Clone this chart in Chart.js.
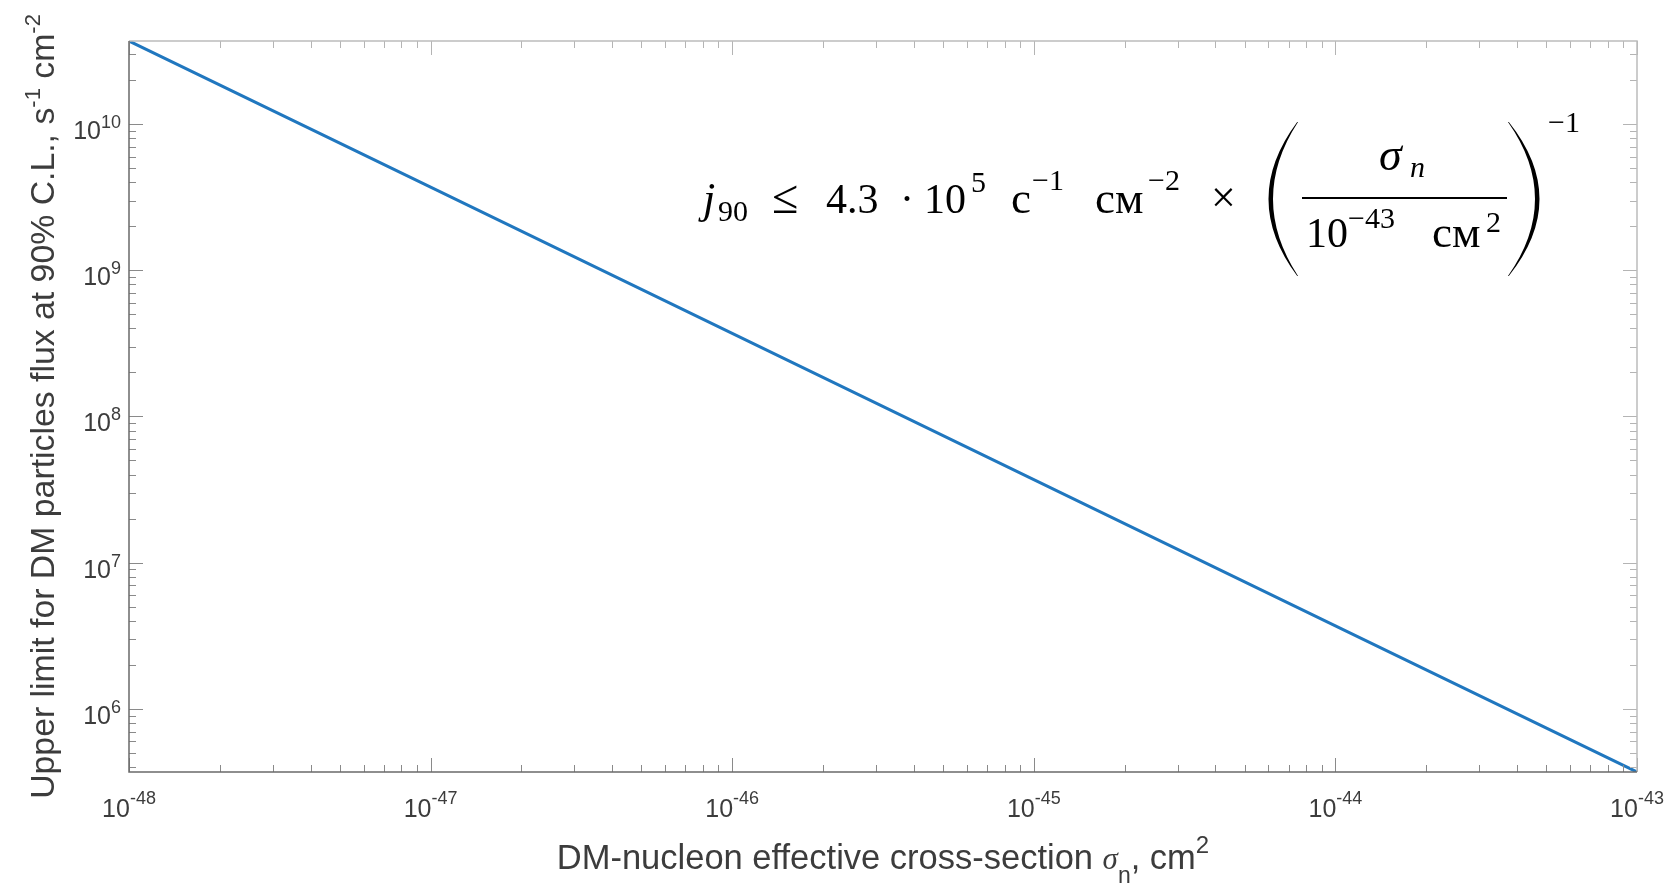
<!DOCTYPE html>
<html>
<head>
<meta charset="utf-8">
<script src="https://cdn.jsdelivr.net/npm/chart.js@4.4.1/dist/chart.umd.min.js"></script>
<style>
  html, body { margin: 0; padding: 0; background: #ffffff; }
  canvas { display: block; }
</style>
</head>
<body>
<canvas id="chart" width="1675" height="885"></canvas>
<script>
// DM-nucleon effective cross-section, cm^2 (one point per decade)
const crossSections = [1e-48, 1e-47, 1e-46, 1e-45, 1e-44, 1e-43];
// Upper limit for DM particles flux at 90% C.L., s^-1 cm^-2
const fluxLimits = [3.7e10, 3.7e9, 3.7e8, 3.7e7, 3.7e6, 3.7e5];
// Decade exponents that carry a tick label
const xTickExponents = [-48, -47, -46, -45, -44, -43];
const yTickExponents = [6, 7, 8, 9, 10];

const SANS = "'Liberation Sans', Arial, Helvetica, sans-serif";
const SERIF = "'Liberation Serif', 'Times New Roman', serif";
const LABEL_COLOR = '#3c3c3c';

// Draws "base" followed by a raised exponent; returns the total width
function powerWidth(ctx, base, exp, size, supSize) {
  ctx.font = size + 'px ' + SANS;
  const w1 = ctx.measureText(base).width;
  ctx.font = supSize + 'px ' + SANS;
  return w1 + ctx.measureText(exp).width;
}
function drawPower(ctx, base, exp, x, y, size, supSize, raise) {
  ctx.font = size + 'px ' + SANS;
  ctx.fillText(base, x, y);
  const w1 = ctx.measureText(base).width;
  ctx.font = supSize + 'px ' + SANS;
  ctx.fillText(exp, x + w1, y - raise);
}

// Draws a run of [text, size, dy, italic, family] pieces left to right
function drawRun(ctx, pieces, x, y, measureOnly) {
  let cx = x;
  for (const p of pieces) {
    const [txt, size, dy, italic, fam] = p;
    ctx.font = (italic ? 'italic ' : '') + size + 'px ' + (fam || SANS);
    if (!measureOnly) ctx.fillText(txt, cx, y + dy);
    cx += ctx.measureText(txt).width;
  }
  return cx - x;
}

// Large round bracket drawn as a filled crescent
function bracket(ctx, xEnd, xApex, top, bottom, dir) {
  const ctrlOuter = 2 * xApex - xEnd;
  const ctrlInner = 2 * (xApex - dir * 4.5) - (xEnd - dir * 0.8);
  ctx.beginPath();
  ctx.moveTo(xEnd, top);
  ctx.quadraticCurveTo(ctrlOuter, (top + bottom) / 2, xEnd, bottom);
  ctx.lineTo(xEnd - dir * 0.8, bottom);
  ctx.quadraticCurveTo(ctrlInner, (top + bottom) / 2, xEnd - dir * 0.8, top);
  ctx.closePath();
  ctx.fill();
}

const axesPlugin = {
  id: 'matlabAxes',
  afterDraw(chart) {
    const ctx = chart.ctx;
    const xs = chart.scales.x, ys = chart.scales.y;
    const { left, right, top, bottom } = chart.chartArea;
    ctx.save();

    // minor and major ticks, pointing inward on all four sides
    const xMinE = Math.floor(Math.log10(xs.min)), xMaxE = Math.ceil(Math.log10(xs.max));
    for (let e = xMinE; e <= xMaxE; e++) {
      for (let k = 1; k <= 9; k++) {
        const v = k * Math.pow(10, e);
        if (v < xs.min * 0.999 || v > xs.max * 1.001) continue;
        const px = Math.round(xs.getPixelForValue(v)) + 0.5;
        const len = k === 1 ? 14 : 7;
        ctx.lineWidth = 1;
        ctx.strokeStyle = '#8a8a8a';
        ctx.beginPath(); ctx.moveTo(px, bottom); ctx.lineTo(px, bottom - len); ctx.stroke();
        ctx.strokeStyle = '#b4b4b4';
        ctx.beginPath(); ctx.moveTo(px, top); ctx.lineTo(px, top + len); ctx.stroke();
      }
    }
    const yMinE = Math.floor(Math.log10(ys.min)), yMaxE = Math.ceil(Math.log10(ys.max));
    for (let e = yMinE; e <= yMaxE; e++) {
      for (let k = 1; k <= 9; k++) {
        const v = k * Math.pow(10, e);
        if (v < ys.min * 0.999 || v > ys.max * 1.001) continue;
        const py = Math.round(ys.getPixelForValue(v)) + 0.5;
        const len = k === 1 ? 14 : 7;
        ctx.lineWidth = 1;
        ctx.strokeStyle = '#8a8a8a';
        ctx.beginPath(); ctx.moveTo(left, py); ctx.lineTo(left + len, py); ctx.stroke();
        ctx.strokeStyle = '#b4b4b4';
        ctx.beginPath(); ctx.moveTo(right, py); ctx.lineTo(right - len, py); ctx.stroke();
      }
    }

    // axes box
    ctx.lineWidth = 1.5;
    ctx.strokeStyle = '#bcbcbc';
    ctx.beginPath();
    ctx.moveTo(left, top); ctx.lineTo(right, top); ctx.lineTo(right, bottom);
    ctx.stroke();
    ctx.strokeStyle = '#6a6a6a';
    ctx.beginPath();
    ctx.moveTo(left, top); ctx.lineTo(left, bottom); ctx.lineTo(right, bottom);
    ctx.stroke();

    // tick labels
    ctx.fillStyle = LABEL_COLOR;
    ctx.textBaseline = 'alphabetic';
    ctx.textAlign = 'left';
    for (const e of xTickExponents) {
      const px = xs.getPixelForValue(Math.pow(10, e));
      const w = powerWidth(ctx, '10', String(e), 25, 18);
      drawPower(ctx, '10', String(e), px - w / 2, bottom + 45, 25, 18, 13);
    }
    for (const e of yTickExponents) {
      const py = ys.getPixelForValue(Math.pow(10, e));
      const w = powerWidth(ctx, '10', String(e), 25, 18);
      drawPower(ctx, '10', String(e), left - 8 - w, py + 15, 25, 18, 11);
    }

    // x-axis title
    const xTitle = [
      ['DM-nucleon effective cross-section ', 34.5, 0, false],
      ['σ', 31, 0, true, SERIF],
      ['n', 23, 14, false],
      [', cm', 34.5, 0, false],
      ['2', 24, -16, false]
    ];
    const xw = drawRun(ctx, xTitle, 0, 0, true);
    drawRun(ctx, xTitle, (left + right) / 2 - xw / 2, 869, false);

    // y-axis title (rotated)
    const yTitle = [
      ['Upper limit for DM particles flux at 90% C.L., s', 33.8, 0, false],
      ['-1', 22, -14, false],
      [' cm', 33.8, 0, false],
      ['-2', 22, -14, false]
    ];
    const yw = drawRun(ctx, yTitle, 0, 0, true);
    ctx.save();
    ctx.translate(54, (top + bottom) / 2);
    ctx.rotate(-Math.PI / 2);
    drawRun(ctx, yTitle, -yw / 2, 0, false);
    ctx.restore();

    // formula annotation
    ctx.fillStyle = '#000000';
    const F = 42, S = 30;
    const put = (t, x, y, size, italic) => {
      ctx.font = (italic ? 'italic ' : '') + size + 'px ' + SERIF;
      ctx.fillText(t, x, y);
    };
    put('j', 703, 213, 44, true);
    put('90', 718, 221, S, false);
    put('≤', 772, 213, 48, false);
    put('4.3', 826, 213, F, false);
    put('·', 900, 213, F, false);
    put('10', 924, 213, F, false);
    put('5', 971, 192, S, false);
    put('c', 1011, 213, 45, false);
    put('−1', 1032, 190, S, false);
    put('см', 1095, 213, 45, false);
    put('−2', 1148, 190, S, false);
    put('×', 1211, 212, 44, false);
    bracket(ctx, 1298, 1273, 122, 276, 1);
    put('σ', 1379, 170, 46, true);
    put('n', 1410, 177, S, true);
    ctx.fillRect(1302, 197, 205, 2);
    put('10', 1306, 247, F, false);
    put('−43', 1348, 228, S, false);
    put('см', 1432, 247, 45, false);
    put('2', 1486, 232, S, false);
    bracket(ctx, 1508, 1535, 122, 276, -1);
    put('−1', 1548, 132, S, false);

    ctx.restore();
  }
};

new Chart(document.getElementById('chart'), {
  type: 'scatter',
  data: {
    datasets: [{
      data: crossSections.map((x, i) => ({ x: x, y: fluxLimits[i] })),
      showLine: true,
      borderColor: '#2077bf',
      borderWidth: 3,
      pointRadius: 0,
      tension: 0,
      fill: false
    }]
  },
  options: {
    responsive: false,
    animation: false,
    devicePixelRatio: 1,
    layout: { padding: { left: 129, top: 41, right: 38, bottom: 113 } },
    plugins: { legend: { display: false }, tooltip: { enabled: false } },
    scales: {
      x: {
        type: 'logarithmic',
        display: false,
        min: crossSections[0],
        max: crossSections[crossSections.length - 1]
      },
      y: {
        type: 'logarithmic',
        display: false,
        min: fluxLimits[fluxLimits.length - 1],
        max: fluxLimits[0]
      }
    }
  },
  plugins: [axesPlugin]
});
</script>
</body>
</html>
